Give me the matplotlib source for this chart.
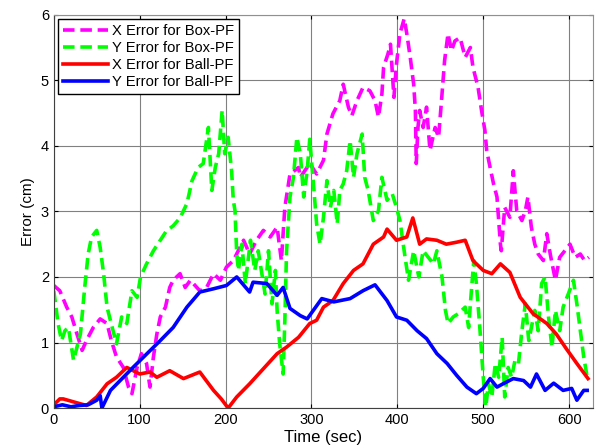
import matplotlib
matplotlib.use("Agg")
import matplotlib.pyplot as plt

plt.rcParams['font.family'] = ['Liberation Sans', 'DejaVu Sans']

# X error, Box-PF (magenta, dashed)
box_x_t = [0, 7, 15, 21, 27, 33, 38, 46, 54, 62, 67, 73, 81, 87, 91, 97, 102, 108, 112, 116,
           120, 124, 130, 135, 139, 147, 153, 159, 170, 178, 186, 194, 201, 209, 221, 228, 236,
           244, 252, 260, 265, 269, 275, 285, 287, 298, 306, 314, 318, 325, 333, 337, 343, 347,
           353, 360, 368, 374, 378, 382, 384, 389, 392, 396, 399, 403, 408, 411, 415, 419, 421,
           422, 424, 426, 430, 434, 438, 444, 448, 452, 455, 459, 463, 467, 473, 479, 485, 488,
           494, 498, 502, 504, 508, 512, 516, 520, 521, 525, 531, 535, 539, 545, 549, 552, 556,
           560, 564, 570, 574, 578, 584, 589, 595, 601, 607, 613, 618, 623]
box_x_v = [1.87, 1.79, 1.54, 1.39, 1.13, 0.88, 1.03, 1.23, 1.36, 1.29, 1.03, 0.78, 0.62, 0.32,
           0.22, 0.62, 0.83, 0.68, 0.32, 0.78, 1.13, 1.39, 1.54, 1.84, 1.95, 2.05, 1.84, 1.95,
           1.79, 1.84, 2.05, 1.95, 2.15, 2.25, 2.56, 2.35, 2.56, 2.71, 2.61, 2.76, 2.25, 3.06,
           3.57, 3.67, 3.52, 3.73, 3.57, 3.78, 4.18, 4.49, 4.69, 4.94, 4.59, 4.46, 4.69, 4.89,
           4.84, 4.69, 4.44, 4.79, 5.2, 5.4, 5.55, 4.74, 5.25, 5.71, 5.94, 5.71, 5.35, 4.94, 4.54,
           3.73, 4.28, 4.54, 4.28, 4.59, 3.93, 4.28, 4.13, 4.79, 5.3, 5.71, 5.45, 5.6, 5.65, 5.35,
           5.5, 5.2, 4.89, 4.54, 4.23, 3.93, 3.67, 3.42, 3.22, 2.5, 2.4, 3.06, 2.91, 3.62, 3.01,
           2.86, 3.01, 3.22, 2.76, 2.5, 2.35, 2.25, 2.66, 2.35, 1.95, 2.3, 2.4, 2.5, 2.3, 2.35,
           2.25, 2.3]

# Y error, Box-PF (green, dashed)
box_y_t = [0, 5, 9, 13, 17, 23, 31, 36, 40, 44, 50, 54, 58, 62, 68, 73, 79, 85, 91, 97, 101,
           108, 116, 124, 131, 139, 147, 155, 161, 168, 174, 180, 184, 188, 192, 196, 199, 203,
           207, 209, 211, 213, 215, 219, 223, 229, 234, 238, 246, 250, 254, 258, 260, 263, 267,
           269, 271, 275, 279, 283, 287, 291, 295, 298, 302, 306, 310, 314, 318, 322, 326, 330,
           333, 337, 341, 345, 349, 353, 359, 362, 366, 372, 378, 382, 388, 394, 399, 403, 409,
           413, 419, 425, 430, 436, 442, 446, 452, 456, 459, 465, 471, 479, 483, 485, 489, 492,
           496, 500, 503, 506, 510, 514, 518, 522, 525, 529, 533, 537, 541, 545, 549, 553, 557,
           560, 564, 568, 572, 576, 580, 584, 589, 593, 599, 605, 609, 613, 617, 621]
box_y_v = [1.79, 1.29, 1.03, 1.18, 1.23, 0.73, 1.13, 1.84, 2.35, 2.61, 2.71, 2.45, 2.05, 1.54,
           1.23, 0.98, 1.39, 1.29, 1.79, 1.69, 2.0, 2.2, 2.4, 2.56, 2.7, 2.78, 2.9, 3.12, 3.47,
           3.67, 3.73, 4.28, 3.32, 3.67, 3.88, 4.54, 3.88, 4.13, 3.62, 3.17, 3.01, 2.35, 2.1, 2.5,
           1.9, 2.56, 2.1, 2.4, 1.74, 2.4, 1.59, 2.1, 1.49, 0.98, 0.52, 1.34, 2.4, 3.22, 3.52,
           4.13, 3.88, 3.22, 3.62, 4.1, 3.47, 2.81, 2.5, 2.91, 3.47, 3.06, 3.32, 2.81, 3.32, 3.42,
           3.62, 4.08, 3.52, 3.88, 4.18, 3.52, 3.32, 2.86, 3.01, 3.52, 3.17, 3.27, 3.06, 2.86, 2.3,
           1.95, 2.4, 2.0, 2.4, 2.3, 2.2, 2.4, 2.0, 1.49, 1.29, 1.39, 1.44, 1.54, 1.23, 1.59, 2.25,
           1.9, 1.23, 0.47, 0.02, 0.37, 0.17, 0.68, 0.47, 1.08, 0.17, 0.62, 0.47, 0.73, 0.68, 1.18,
           1.59, 1.03, 1.29, 1.49, 1.18, 1.9, 2.0, 1.39, 0.93, 1.49, 1.18, 1.54, 1.74, 1.95, 1.59,
           1.18, 0.78, 0.47]

# X error, Ball-PF (red, solid)
ball_x_t = [0, 7, 11, 27, 38, 50, 62, 73, 85, 100, 112, 120, 135, 151, 170, 186, 195, 203,
            213, 228, 244, 260, 271, 285, 298, 306, 314, 325, 337, 349, 360, 372, 384, 388, 399,
            411, 418, 426, 434, 446, 457, 469, 479, 488, 500, 510, 520, 531, 543, 558, 574, 585,
            597, 609, 622]
ball_x_v = [0.05, 0.14, 0.14, 0.08, 0.04, 0.17, 0.37, 0.47, 0.62, 0.52, 0.55, 0.47, 0.57, 0.45,
            0.55, 0.27, 0.14, 0.0, 0.17, 0.37, 0.6, 0.83, 0.93, 1.08, 1.29, 1.34, 1.54, 1.64, 1.9,
            2.1, 2.2, 2.5, 2.61, 2.73, 2.56, 2.61, 2.9, 2.5, 2.58, 2.56, 2.5, 2.53, 2.56, 2.25, 2.1,
            2.05, 2.2, 2.07, 1.69, 1.44, 1.29, 1.13, 0.9, 0.68, 0.45]

# Y error, Ball-PF (blue, solid)
ball_y_t = [0, 10, 20, 30, 40, 50, 54, 56, 66, 93, 124, 139, 155, 170, 186, 201, 213, 228,
            232, 248, 260, 267, 275, 287, 295, 312, 326, 345, 360, 374, 388, 399, 411, 423, 434,
            446, 458, 469, 481, 492, 500, 508, 516, 523, 535, 547, 555, 562, 572, 582, 593, 603,
            609, 617, 621]
ball_y_v = [0.02, 0.05, 0.02, 0.04, 0.05, 0.12, 0.19, 0.0, 0.27, 0.63, 1.03, 1.23, 1.54, 1.77,
            1.82, 1.87, 2.0, 1.77, 1.92, 1.9, 1.72, 1.84, 1.52, 1.41, 1.36, 1.67, 1.62, 1.67, 1.79,
            1.88, 1.64, 1.39, 1.34, 1.18, 1.06, 0.83, 0.68, 0.5, 0.32, 0.22, 0.3, 0.45, 0.32, 0.37,
            0.45, 0.42, 0.32, 0.52, 0.27, 0.38, 0.27, 0.3, 0.12, 0.27, 0.27]

labels = ['X Error for Box-PF', 'Y Error for Box-PF', 'X Error for Ball-PF', 'Y Error for Ball-PF']
x_ticks = [0, 100, 200, 300, 400, 500, 600]
y_ticks = [0, 1, 2, 3, 4, 5, 6]

fig = plt.figure(figsize=(6.01, 4.46), dpi=100)
ax = fig.add_axes([0.0895, 0.085, 0.8975, 0.882])

dash = (0, (3.2, 1.6))
ax.plot(box_x_t, box_x_v, color='#ff00ff', lw=2.6, linestyle=dash, label=labels[0])
ax.plot(box_y_t, box_y_v, color='#00ff00', lw=2.6, linestyle=dash, label=labels[1])
ax.plot(ball_x_t, ball_x_v, color='#ff0000', lw=2.6, label=labels[2])
ax.plot(ball_y_t, ball_y_v, color='#0000ff', lw=2.6, label=labels[3])

ax.set_xlim(0, 628)
ax.set_ylim(0, 6)
ax.set_xticks(x_ticks)
ax.set_yticks(y_ticks)
ax.tick_params(direction='in', labelsize=10.5, top=True, right=True, length=3)
ax.grid(True, color='#808080', lw=0.8)
for side in ['top', 'right']:
    ax.spines[side].set_color('#909090')
for side in ['left', 'bottom']:
    ax.spines[side].set_color('#404040')
ax.set_xlabel('Time (sec)', fontsize=12, labelpad=2)
ax.set_ylabel('Error (cm)', fontsize=11, labelpad=4)

leg = ax.legend(loc='upper left', fontsize=10.6, frameon=True, fancybox=False,
                handlelength=3.0, borderpad=0.35, labelspacing=0.2,
                handletextpad=0.3, borderaxespad=0.3)
leg.get_frame().set_edgecolor('black')
leg.get_frame().set_linewidth(1.0)
leg.get_frame().set_alpha(1.0)

fig.savefig('out.png', dpi=100)
